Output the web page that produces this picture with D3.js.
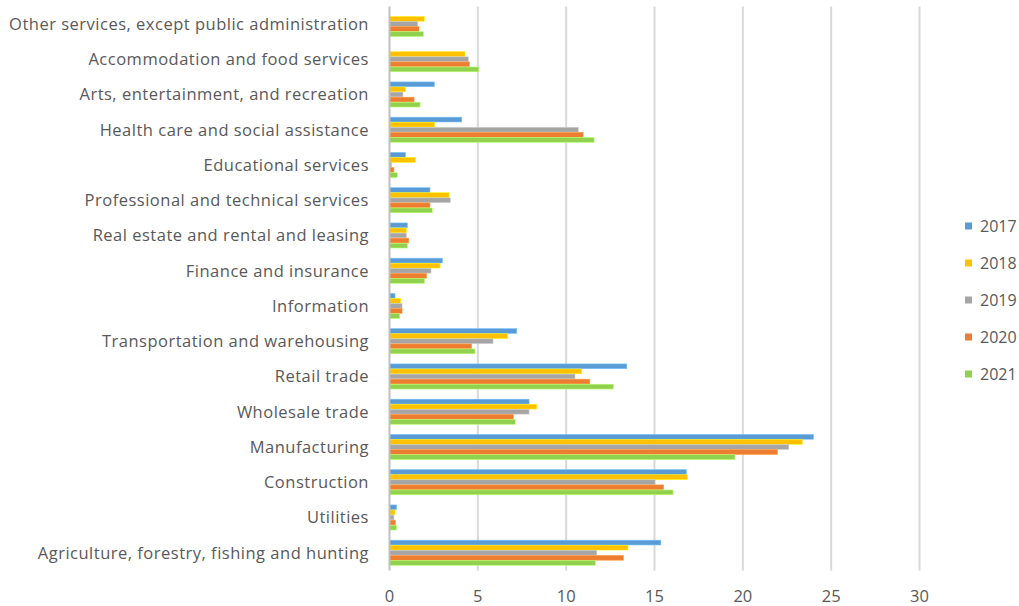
<!DOCTYPE html>
<html>
<head>
<meta charset="utf-8">
<script src="https://cdn.jsdelivr.net/npm/d3@7"></script>
<style>
    body { margin: 0; background: #fff; }
    svg { display: block; }
</style>
</head>
<body>
<div id="chart"></div>
<script>
// categories, bottom to top as in the picture
const categories = [
    "Agriculture, forestry, fishing and hunting",
    "Utilities",
    "Construction",
    "Manufacturing",
    "Wholesale trade",
    "Retail trade",
    "Transportation and warehousing",
    "Information",
    "Finance and insurance",
    "Real estate and rental and leasing",
    "Professional and technical services",
    "Educational services",
    "Health care and social assistance",
    "Arts, entertainment, and recreation",
    "Accommodation and food services",
    "Other services, except public administration"
];
const years = ["2017", "2018", "2019", "2020", "2021"];
const colors = ["#5B9BD5", "#FFC000", "#A5A5A5", "#ED7D31", "#92D050"];

const v2017 = [15.36, 0.39, 16.8, 24.0, 7.9, 13.43, 7.2, 0.31, 2.99, 1.01, 2.29, 0.9, 4.09, 2.54, 0, 0];
const v2018 = [13.5, 0.31, 16.86, 23.36, 8.33, 10.88, 6.69, 0.63, 2.86, 0.95, 3.37, 1.46, 2.54, 0.9, 4.27, 1.97];
const v2019 = [11.73, 0.25, 15.03, 22.6, 7.9, 10.5, 5.86, 0.71, 2.35, 0.95, 3.44, 0.12, 10.69, 0.76, 4.46, 1.6];
const v2020 = [13.24, 0.33, 15.52, 21.96, 7.01, 11.34, 4.65, 0.71, 2.1, 1.09, 2.29, 0.25, 10.96, 1.39, 4.52, 1.67];
const v2021 = [11.65, 0.39, 16.05, 19.55, 7.12, 12.67, 4.84, 0.58, 1.97, 1.01, 2.42, 0.44, 11.58, 1.73, 5.05, 1.92];
const xTicks = [0, 5, 10, 15, 20, 25, 30];

const series = [v2017, v2018, v2019, v2020, v2021];

const W = 1019, H = 606;
const margin = {top: 6.5, left: 389.5, right: 99.5, bottom: 35.5};
const font = "'Open Sans', 'Noto Sans', sans-serif";

const svg = d3.select("#chart").append("svg")
    .attr("width", W)
    .attr("height", H);

const x = d3.scaleLinear()
    .domain([0, 30])
    .range([margin.left, W - margin.right]);

// top category first
const y = d3.scaleBand()
    .domain(categories.slice().reverse())
    .range([margin.top, H - margin.bottom])
    .paddingInner(0.28)
    .paddingOuter(0.14);

const yInner = d3.scaleBand()
    .domain(years)
    .range([0, y.bandwidth()]);

// gridlines
svg.append("g")
    .selectAll("line")
    .data(xTicks.slice(1))
    .join("line")
    .attr("x1", d => x(d)).attr("x2", d => x(d))
    .attr("y1", margin.top).attr("y2", H - margin.bottom)
    .attr("stroke", "#d9d9d9")
    .attr("stroke-width", 2);

// bars
const groups = svg.append("g")
    .selectAll("g")
    .data(categories)
    .join("g")
    .attr("transform", d => `translate(0,${y(d)})`);

groups.selectAll("rect")
    .data((d, i) => years.map((yr, j) => ({yr: yr, v: series[j][i], c: colors[j]})))
    .join("rect")
    .attr("x", x(0))
    .attr("y", d => yInner(d.yr))
    .attr("height", yInner.bandwidth() - 0.3)
    .attr("width", d => Math.max(0, x(d.v) - x(0)))
    .attr("fill", d => d.c)
    .attr("stroke", d => d.v > 0 ? d3.color(d.c).brighter(0.6) : "none")
    .attr("stroke-width", 0.6);

// category axis line
svg.append("line")
    .attr("x1", x(0)).attr("x2", x(0))
    .attr("y1", margin.top).attr("y2", H - margin.bottom)
    .attr("stroke", "#bfbfbf")
    .attr("stroke-width", 2);

// category labels
svg.append("g")
    .selectAll("text")
    .data(categories)
    .join("text")
    .attr("x", 369)
    .attr("y", d => y(d) + y.bandwidth() / 2)
    .attr("dy", "0.35em")
    .attr("text-anchor", "end")
    .attr("fill", "#595959")
    .style("font-family", font)
    .style("font-size", "16.5px")
    .style("letter-spacing", "0.5px")
    .text(d => d);

// x tick labels
svg.append("g")
    .selectAll("text")
    .data(xTicks)
    .join("text")
    .attr("x", d => x(d))
    .attr("y", 596)
    .attr("dy", "0.35em")
    .attr("text-anchor", "middle")
    .attr("fill", "#595959")
    .style("font-family", font)
    .style("font-size", "16.5px")
    .text(d => d);

// legend
const legend = svg.append("g")
    .selectAll("g")
    .data(years)
    .join("g")
    .attr("transform", (d, i) => `translate(965,${226 + i * 37})`);

legend.append("rect")
    .attr("x", 0).attr("y", -3.5)
    .attr("width", 7).attr("height", 7)
    .attr("fill", (d, i) => colors[i]);

legend.append("text")
    .attr("x", 15)
    .attr("y", 0)
    .attr("dy", "0.35em")
    .attr("fill", "#595959")
    .style("font-family", font)
    .style("font-size", "16px")
    .text(d => d);
</script>
</body>
</html>
